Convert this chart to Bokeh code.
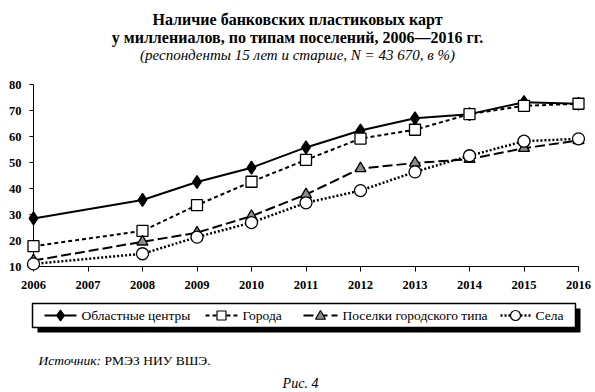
from bokeh.plotting import figure
from bokeh.models import Range1d, FixedTicker
from bokeh.core.properties import value
from bokeh.embed import file_html
from bokeh.resources import INLINE

# ---- data -------------------------------------------------------------
years = [2006, 2008, 2009, 2010, 2011, 2012, 2013, 2014, 2015, 2016]
oblast_centers = [28.5, 35.6, 42.5, 48.0, 55.8, 62.3, 67.0, 68.6, 73.2, 72.6]
cities = [17.8, 23.7, 33.6, 42.6, 51.0, 59.2, 62.6, 68.6, 71.8, 72.6]
urban_settlements = [12.3, 19.5, 23.0, 29.4, 37.7, 47.7, 49.8, 51.3, 55.5, 58.5]
villages = [11.0, 14.9, 21.3, 26.9, 34.5, 39.2, 46.4, 52.6, 58.2, 59.1]

series_names = ["Областные центры", "Города", "Поселки городского типа", "Села"]
x_ticks = list(range(2006, 2017))
y_ticks = [10, 20, 30, 40, 50, 60, 70, 80]

title_lines = ["Наличие банковских пластиковых карт",
               "у миллениалов, по типам поселений, 2006—2016 гг."]
subtitle = "(респонденты 15 лет и старше, N = 43 670, в %)"
source_label = "Источник:"
source_text = "РМЭЗ НИУ ВШЭ."
fig_caption = "Рис. 4"

SERIF = "Liberation Serif"
XMIN, XMAX, YMIN, YMAX = 2006, 2016, 10, 80
FL, FR, FT, FB = 33, 578, 84, 266      # frame edges in canvas pixels


def px_x(px):   # canvas pixel -> data x (for decorations outside the frame)
    return XMIN + (px - FL) * (XMAX - XMIN) / (FR - FL)


def px_y(py):
    return YMIN + (FB - py) * (YMAX - YMIN) / (FB - FT)


# ---- figure -----------------------------------------------------------
p = figure(width=595, height=392, output_backend="svg", toolbar_location=None,
           x_range=Range1d(XMIN, XMAX), y_range=Range1d(YMIN, YMAX),
           min_border_left=FL, min_border_right=595 - FR, min_border_top=FT,
           min_border_bottom=392 - FB, background_fill_color="white",
           border_fill_color="white")
p.outline_line_color = None
p.grid.visible = False

for ax in (p.xaxis[0], p.yaxis[0]):
    ax.axis_line_color = "black"
    ax.axis_line_width = 1
    ax.major_tick_line_color = "black"
    ax.major_tick_in = 0
    ax.minor_tick_line_color = None
    ax.major_label_text_font = SERIF
    ax.major_label_text_font_style = "bold"
    ax.major_label_text_font_size = "12.5px"
    ax.major_label_text_color = "black"

p.xaxis[0].ticker = FixedTicker(ticks=x_ticks)
p.xaxis[0].major_tick_out = 5
p.xaxis[0].major_label_standoff = 9
p.yaxis[0].ticker = FixedTicker(ticks=y_ticks)
p.yaxis[0].major_tick_out = 4
p.yaxis[0].major_label_standoff = 8

# ---- series -----------------------------------------------------------
styles = [
    dict(y=oblast_centers, dash="solid", lw=2.0, marker="diamond", size=13,
         lsize=11, fill="black"),
    dict(y=cities, dash="4 3", lw=2.0, marker="square", size=11, lsize=9,
         fill="white"),
    dict(y=urban_settlements, dash="10 4", lw=2.0, marker="triangle", size=11,
         lsize=10, fill="#8c8c8c"),
    dict(y=villages, dash="2 2", lw=2.5, marker="circle", size=12, lsize=10,
         fill="white"),
]

for st in styles:
    p.line(years, st["y"], line_color="black", line_width=st["lw"],
           line_dash=st["dash"], level="overlay")
    p.scatter(years, st["y"], marker=st["marker"], size=st["size"],
              fill_color=st["fill"], line_color="black", line_width=1.3,
              level="overlay")

# ---- legend box (with drop shadow) below the axis ----------------------
BOX_L, BOX_R, BOX_T, BOX_B, SHADOW = 32, 575, 303, 327, 5
LEG_Y = (BOX_T + BOX_B) / 2
p.rect(x=[px_x((BOX_L + BOX_R) / 2 + SHADOW)], y=[px_y(LEG_Y + SHADOW)],
       width=[BOX_R - BOX_L], height=[BOX_B - BOX_T],
       width_units="screen", height_units="screen",
       fill_color="black", line_color=None, level="guide")
p.rect(x=[px_x((BOX_L + BOX_R) / 2)], y=[px_y(LEG_Y)],
       width=[BOX_R - BOX_L], height=[BOX_B - BOX_T],
       width_units="screen", height_units="screen",
       fill_color="white", line_color="black", line_width=1.5, level="guide")


def legend_marker(kind, cx, cy, size, fill):
    """Legend sample marker drawn as a small shape at canvas pixel (cx, cy)."""
    r = size / 2
    if kind == "circle":
        p.ellipse(x=[px_x(cx)], y=[px_y(cy)], width=[size], height=[size],
                  width_units="screen", height_units="screen",
                  fill_color=fill, line_color="black", line_width=1.2,
                  level="overlay")
        return
    if kind == "diamond":
        pts = [(0, -r), (r / 1.4, 0), (0, r), (-r / 1.4, 0)]
    elif kind == "square":
        pts = [(-r, -r), (r, -r), (r, r), (-r, r)]
    else:  # triangle
        pts = [(0, -r), (r, r * 0.75), (-r, r * 0.75)]
    p.patch(x=[px_x(cx + dx) for dx, _ in pts],
            y=[px_y(cy + dy) for _, dy in pts],
            fill_color=fill, line_color="black", line_width=1.2,
            level="overlay")


legend_glyph_px = [(44, 76), (205, 237), (303, 337), (500, 530)]
for name, st, (a, b) in zip(series_names, styles, legend_glyph_px):
    p.segment(x0=[px_x(a)], y0=[px_y(LEG_Y)], x1=[px_x(b)], y1=[px_y(LEG_Y)],
              line_color="black", line_width=st["lw"], line_dash=st["dash"],
              level="overlay")
    legend_marker(st["marker"], (a + b) / 2, LEG_Y, st["lsize"], st["fill"])
    p.text(x=[XMIN], y=[YMIN], text=[name], x_offset=b + 5 - FL,
           y_offset=LEG_Y - FB, text_font=value(SERIF),
           text_font_size=value("13.5px"), text_align="left",
           text_baseline="middle", text_color="black", level="overlay")


# ---- texts (anchored at the frame corner, offset in pixels) ------------
def add_text(txt, px, py, size, style="normal", align="center"):
    p.text(x=[XMIN], y=[YMIN], text=[txt], x_offset=px - FL, y_offset=py - FB,
           text_font=value(SERIF), text_font_style=style,
           text_font_size=value(size), text_align=align,
           text_baseline="alphabetic", text_color="black", level="overlay")


add_text(title_lines[0], 297, 19, "16px", "bold")
add_text(title_lines[1], 297, 37, "16px", "bold")
add_text(subtitle, 297, 54, "15px", "italic")
add_text(source_label, 38, 360, "13.5px", "italic", "left")
add_text(source_text, 104, 360, "13.5px", "normal", "left")
add_text(fig_caption, 300, 383, "14px", "italic")

open("out.html", "w").write(file_html(p, INLINE))
